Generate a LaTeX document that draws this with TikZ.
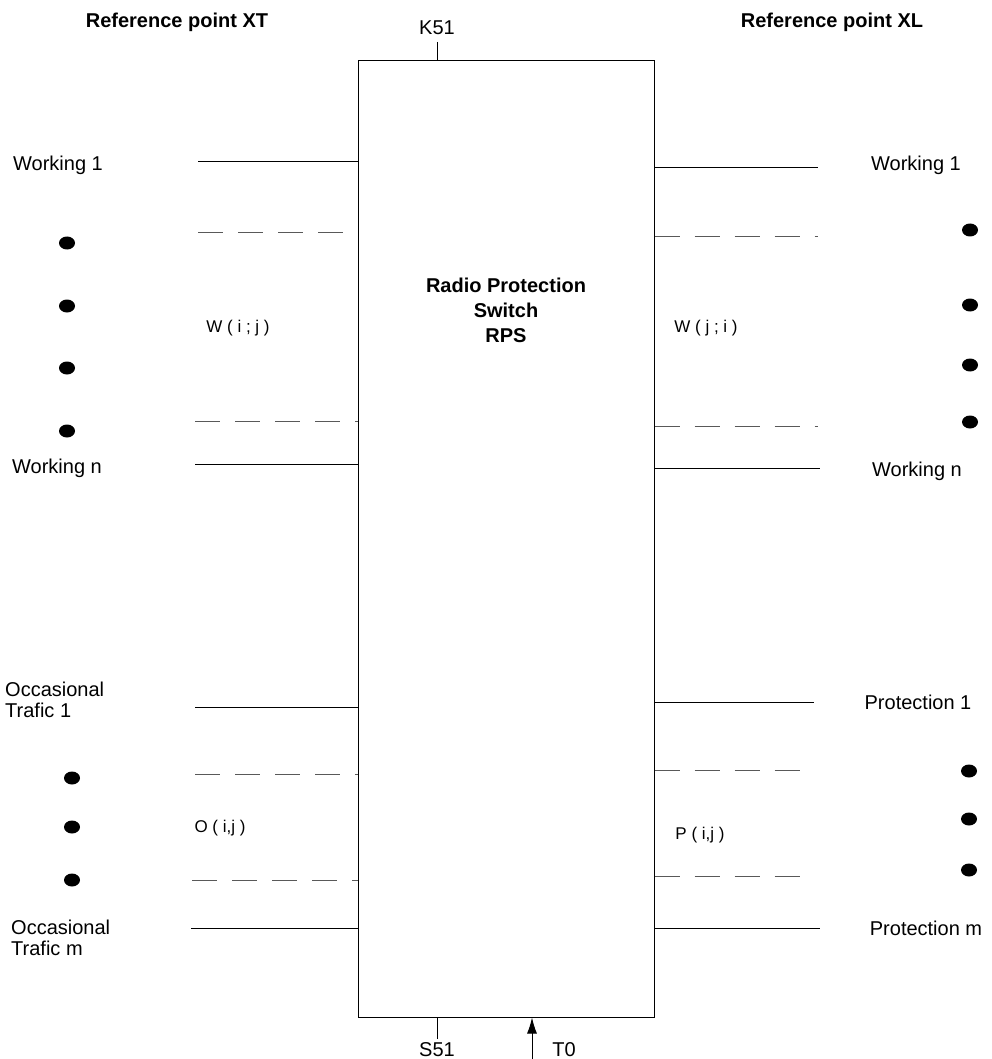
\documentclass[tikz,border=0pt]{standalone}
\usepackage{fontspec}
\setmainfont{Liberation Sans}
\usetikzlibrary{calc,fit,positioning,arrows.meta,shapes.geometric}
\tikzset{chan/.style={line width=1pt},spare/.style={line width=0.9pt,black!65,dash pattern=on 25pt off 15pt},
  chdot/.style={ellipse,fill,inner sep=0pt,minimum width=16pt,minimum height=13pt},
  lab/.style={font=\fontsize{20}{21}\selectfont,inner sep=0pt},
  title/.style={font=\fontsize{20}{25}\selectfont\bfseries,inner sep=0pt,align=center},
  grp/.style={font=\fontsize{17}{20}\selectfont,inner sep=0pt}}

\begin{document}
\begin{tikzpicture}[x=1pt,y=-1pt]
\useasboundingbox (0,0) rectangle (992,1059);

% Switch box
\coordinate (boxnw) at (358,61);
\coordinate (boxse) at (654,1017);
\node[draw,line width=1pt,inner sep=0pt,fit=(boxnw)(boxse)] (rps) {};
\node[title] (rpsname) at (506,310) {Radio Protection\\Switch\\RPS};

% Reference points
\node[title] (xt) at (177,22) {Reference point XT};
\node[title] (xl) at (832,22) {Reference point XL};

% K51, S51 and T0
\coordinate (k51top) at (437,42);
\node[lab] (k51) at (437,28) {K51};
\draw[chan] (k51top) -- (k51top |- rps.north);
\coordinate (s51bot) at (437,1039);
\node[lab] (s51) at (437,1050) {S51};
\draw[chan] (s51bot) -- (s51bot |- rps.south);
\coordinate (t0bot) at (532,1059);
\node[lab] (t0) at (564,1050) {T0};
\draw[chan,-{Latex[length=16pt,width=10pt]}] (t0bot) -- (t0bot |- rps.south);

% Left side (XT)
\coordinate (lw1) at (198,162);
\coordinate (lwa) at (198,232);
\coordinate (lwb) at (195,421);
\coordinate (lwn) at (195,464);
\coordinate (lo1) at (195,707);
\coordinate (loa) at (195,774);
\coordinate (lob) at (192,880);
\coordinate (lom) at (191,928);
\foreach \c in {lw1,lwn,lo1,lom}
  \draw[chan] (\c) -- (\c -| rps.west);
\foreach \c in {lwa,lwb,loa,lob}
  \draw[spare] (\c) -- (\c -| rps.west);

\node[lab] (lwork1) at (58,165) {Working 1};
\node[lab] (lworkn) at (57,468) {Working n};
\node[lab,anchor=west,align=left] (locc1) at (5,700) {Occasional\\Trafic 1};
\node[lab,anchor=west,align=left] (loccm) at (11,938) {Occasional\\Trafic m};
\node[grp] (wij) at (238,328) {W ( i ; j )};
\node[grp] (oij) at (220,828) {O ( i,j )};

\foreach \y in {243,306,368,431}
  \node[chdot] at (67,\y) {};
\foreach \y in {778,827,880}
  \node[chdot] at (72,\y) {};

% Right side (XL)
\coordinate (rw1) at (818,168);
\coordinate (rwa) at (818,236);
\coordinate (rwb) at (818,426);
\coordinate (rwn) at (820,468);
\coordinate (rp1) at (814,702);
\coordinate (rpa) at (814,770);
\coordinate (rpb) at (814,876);
\coordinate (rpm) at (820,928);
\foreach \c in {rw1,rwn,rp1,rpm}
  \draw[chan] (\c -| rps.east) -- (\c);
\foreach \c in {rwa,rwb,rpa,rpb}
  \draw[spare] (\c -| rps.east) -- (\c);

\node[lab] (rwork1) at (916,165) {Working 1};
\node[lab] (rworkn) at (917,471) {Working n};
\node[lab] (rprot1) at (918,702) {Protection 1};
\node[lab] (rprotm) at (926,928) {Protection m};
\node[grp] (wji) at (706,328) {W ( j ; i )};
\node[grp] (pij) at (700,835) {P ( i,j )};

\foreach \y in {230,305,365,422}
  \node[chdot] at (970,\y) {};
\foreach \y in {771,819,870}
  \node[chdot] at (969,\y) {};

\end{tikzpicture}
\end{document}
